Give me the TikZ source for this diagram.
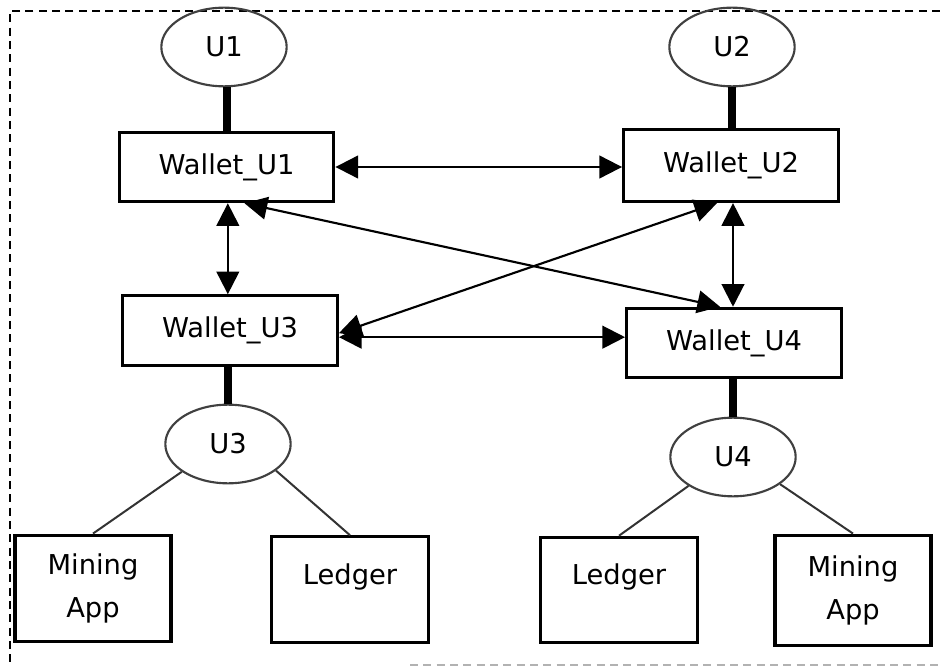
\documentclass[tikz,border=0pt]{standalone}
\usepackage{fontspec}
\setmainfont{DejaVu Sans}
\usetikzlibrary{arrows.meta,shapes.geometric}
\begin{document}
\begin{tikzpicture}[x=0.75pt,y=-0.75pt,
  font=\fontsize{20.5}{32}\selectfont,
  wallet/.style={draw, line width=2.4pt, minimum width=161pt, minimum height=52pt, inner sep=0pt},
  user/.style={ellipse, draw=black!75, line width=1.6pt, minimum width=94pt, minimum height=59pt, inner sep=0pt},
  leaf/.style={draw, line width=2.4pt, minimum width=117pt, inner sep=0pt, align=center},
  bond/.style={line width=6pt},
  link/.style={line width=1.6pt, {Triangle[length=17pt,width=17pt]}-{Triangle[length=17pt,width=17pt]}},
  branch/.style={line width=1.5pt, draw=black!80},
  frame/.style={dash pattern=on 6pt off 4pt, line width=1.1pt}
]
\path[use as bounding box] (0,0) rectangle (940,667);

% dashed frame
\draw[frame] (940,11) -- (10,11) -- (10,662);
\draw[frame, black!30] (410,665) -- (940,665);

% users
\node[user] (U1) at (224,47) {U1};
\node[user] (U2) at (732,47) {U2};
\node[user] (U3) at (228,444) {U3};
\node[user] (U4) at (733,457) {U4};

% wallets
\node[wallet] (W1) at (226.5,167) {Wallet\_U1};
\node[wallet, minimum height=54pt] (W2) at (731,165.5) {Wallet\_U2};
\node[wallet] (W3) at (230,330.5) {Wallet\_U3};
\node[wallet] (W4) at (734,343) {Wallet\_U4};

% applications
\node[leaf, minimum height=80pt] (MA1) at (93,588.5) {Mining\\App};
\node[leaf, minimum width=118pt, minimum height=79pt] (L1) at (350,589.5) {};
\node (L1t) at ([yshift=9.4pt]L1.center) {Ledger};
\node[leaf, minimum width=118pt, minimum height=79pt] (L2) at (619,590) {};
\node (L2t) at ([yshift=9.7pt]L2.center) {Ledger};
\node[leaf, minimum height=83pt] (MA2) at (853,590.5) {Mining\\App};

% user to wallet
\draw[bond] (W1.north) -- (W1.north |- U1.south);
\draw[bond] (U2.south) -- (U2.south |- W2.north);
\draw[bond] (U3.north) -- (U3.north |- W3.south);
\draw[bond] (U4.north) -- (U4.north |- W4.south);

% wallet links
\draw[link] (W1.east) -- (W1.east -| W2.west);
\draw[link] ([yshift=-5pt]W3.east) -- ([yshift=-5pt]W3.east -| W4.west);
\draw[link] ([xshift=1pt]W1.south) -- ([xshift=1pt]W1.south |- W3.north);
\draw[link] ([xshift=1.5pt]W2.south) -- ([xshift=1.5pt]W2.south |- W4.north);
\draw[link] ([xshift=13.5pt]W1.south) -- ([xshift=-10.5pt]W4.north);
\draw[link] ([yshift=-2pt]W3.east) -- ([xshift=-10.5pt]W2.south);

% user to applications
\draw[branch] (U3.211) -- (MA1.north);
\draw[branch] (U3.331) -- (L1.north);
\draw[branch] (U4.213) -- (L2.north);
\draw[branch] (U4.330) -- (MA2.north);
\end{tikzpicture}
\end{document}
